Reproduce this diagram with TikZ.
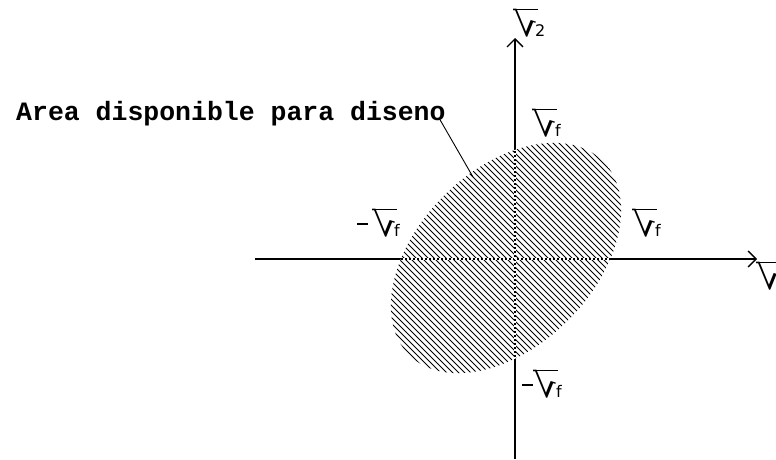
\documentclass[tikz,border=0pt]{standalone}
\usepackage{fontspec}
\usetikzlibrary{arrows.meta}
\newfontfamily\djv{DejaVu Sans}
\newfontfamily\pixmono{Liberation Mono}
\newsavebox\sgmbox
\sbox\sgmbox{\resizebox*{24pt}{28pt}{\reflectbox{\djv √}}}
\newcommand\sgm{\rlap{\rule[26.6pt]{25pt}{1.4pt}}\raisebox{\dp\sgmbox}{\usebox\sgmbox}}
\newcommand\subt[1]{{\djv\fontsize{16}{16}\selectfont #1}}
\newcommand\mns{\raisebox{12pt}{\rule{11pt}{1.6pt}}}
\tikzset{
  axis/.style={line width=1.3pt,-{Straight Barb[length=8pt,width=16pt]}},
  hatch/.style={line width=1pt,black},
  lab/.style={inner sep=0pt,anchor=south west},
  leader/.style={line width=0.9pt},
}
\begin{document}
\begin{tikzpicture}[x=1pt,y=-1pt]
\useasboundingbox (0,0) rectangle (776,459);
\coordinate (c) at (506,258);
\begin{scope}
  \clip[rotate around={45:(c)}] (c) ellipse [x radius=137, y radius=88];
  \foreach \k in {-282,-276,...,282} \draw[hatch] (\k+346,98) -- ++(320,320);
\end{scope}
\coordinate (xl) at (255,259);
\coordinate (xr) at (757,259);
\coordinate (yb) at (515,459);
\coordinate (yt) at (515,38);
\draw[axis] (xl) -- (xr);
\draw[axis] (yb) -- (yt);
\begin{scope}
  \clip[rotate around={45:(c)}] (c) ellipse [x radius=137, y radius=88];
  \draw[white,line width=1.4pt,dash pattern=on 2pt off 2pt] (xl) -- (xr);
  \draw[white,line width=1.4pt,dash pattern=on 2pt off 2pt] (yb) -- (yt);
\end{scope}
\node[inner sep=0pt,anchor=base west] (t) at (16,120) {\pixmono\bfseries\fontsize{26.5}{26.5}\selectfont Area disponible para diseno};
\coordinate (ls) at (439,118);
\coordinate (lt) at (473,177);
\draw[leader] (ls) -- (lt);
\node[lab] (s2) at (513,37) {\sgm\kern-2pt\subt{2}};
\node[lab] (ftop) at (532,137) {\sgm\kern-1pt\subt{f}};
\node[lab] (fleft) at (357,237) {\mns\kern4pt\sgm\kern-2pt\subt{f}};
\node[lab] (fright) at (632,237) {\sgm\kern-1pt\subt{f}};
\node[lab] (fbot) at (522,398) {\mns\sgm\kern-1pt\subt{f}};
\node[lab] (s1) at (756,290) {\sgm};
\end{tikzpicture}
\end{document}
